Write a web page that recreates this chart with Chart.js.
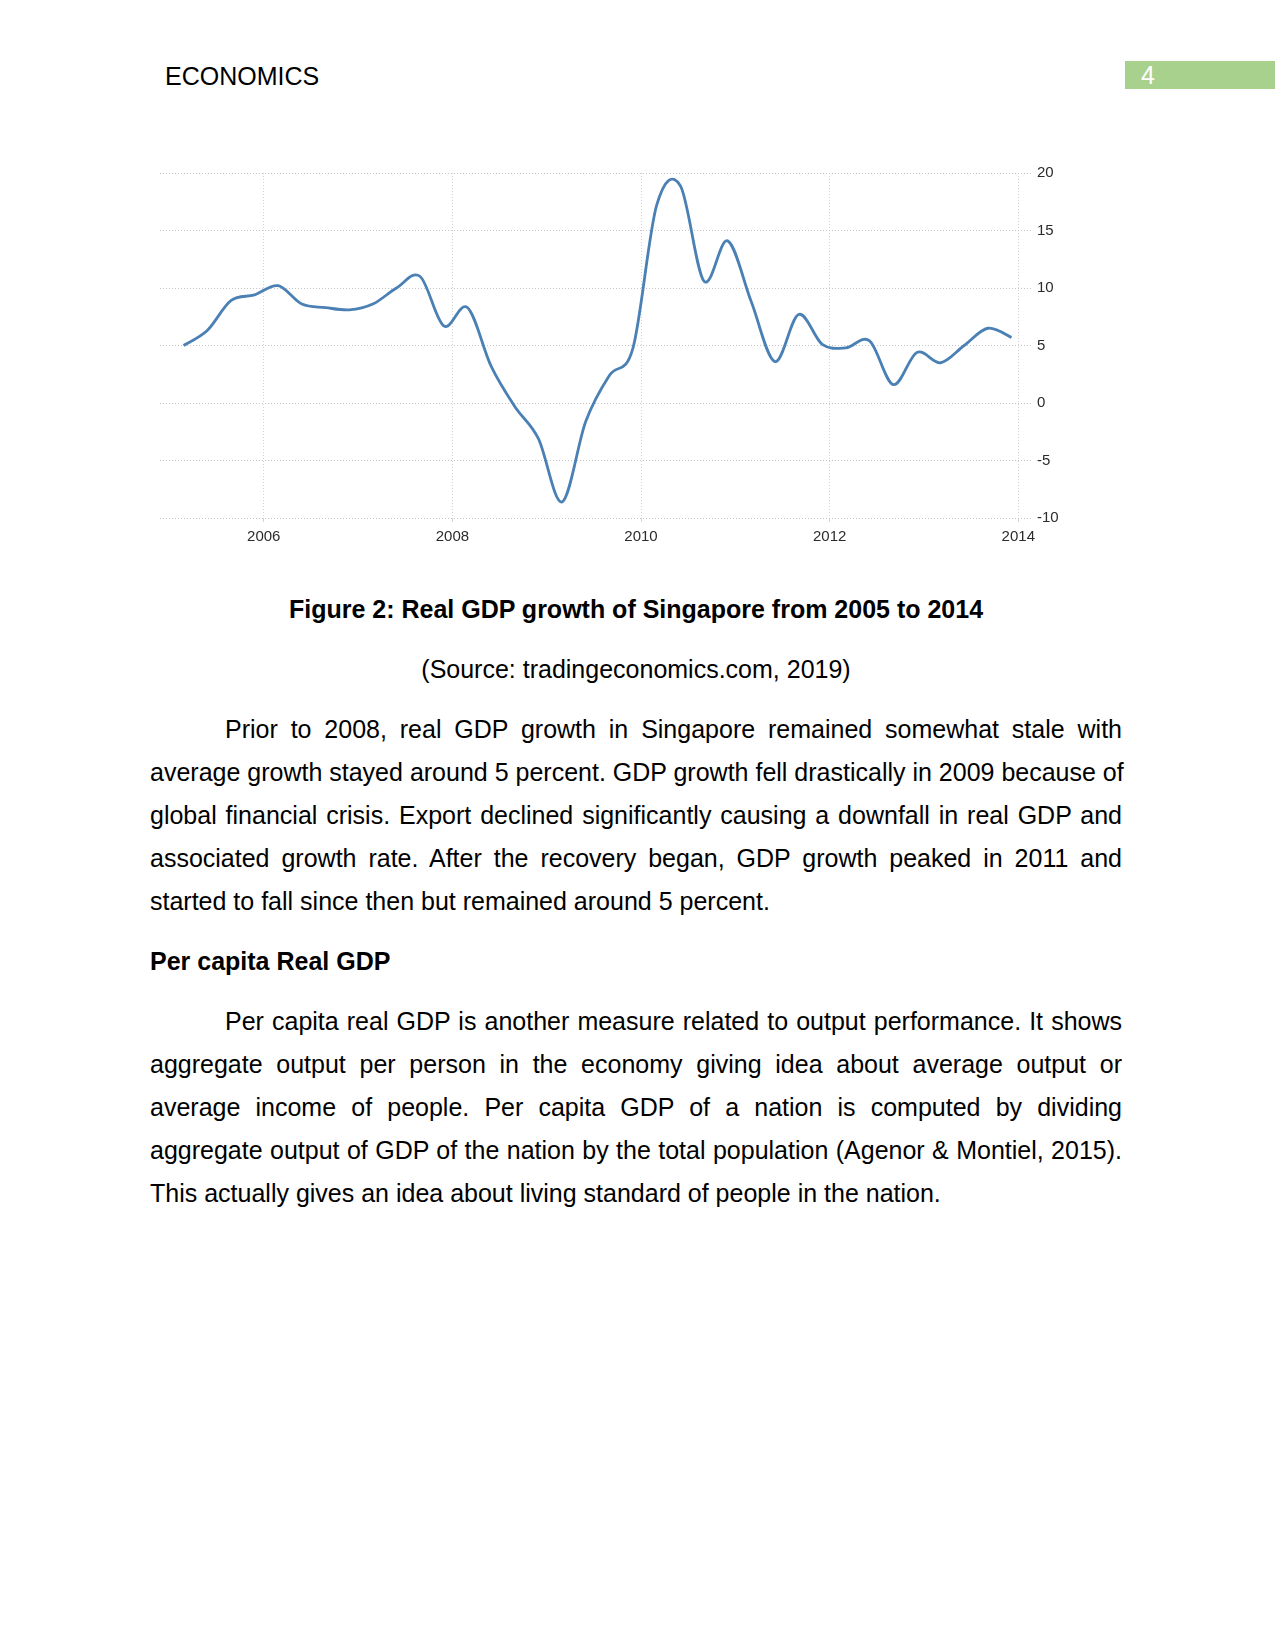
<!DOCTYPE html>
<html>
<head>
<meta charset="utf-8">
<script src="https://cdn.jsdelivr.net/npm/chart.js@4.4.1/dist/chart.umd.min.js"></script>
<style>
    body {
        margin: 0;
        background: #fff;
        font-family: "Liberation Sans", Arial, sans-serif;
        color: #000;
    }
    .page {
        position: relative;
        width: 1275px;
        height: 1651px;
        overflow: hidden;
    }
    .abs { position: absolute; }
    .header {
        left: 165px;
        top: 61px;
        font-size: 25px;
        line-height: 30px;
    }
    .page-num {
        left: 1125px;
        top: 61px;
        width: 150px;
        height: 28px;
        background: #a9d18e;
        color: #fff;
        font-size: 25px;
        line-height: 28px;
        padding-left: 16px;
        box-sizing: border-box;
    }
    #chartWrap {
        left: 160px;
        top: 160px;
        width: 913px;
        height: 388px;
    }
    .center {
        left: 150px;
        width: 972px;
        text-align: center;
        font-size: 25px;
        line-height: 43px;
    }
    .para {
        left: 150px;
        width: 972px;
        font-size: 25px;
        line-height: 43.1px;
    }
    .para div {
        text-align: justify;
        text-align-last: justify;
        white-space: nowrap;
    }
    .para div.indent { padding-left: 75px; }
    .para div.last { text-align: left; text-align-last: left; }
</style>
</head>
<body>
<div class="page">
    <div class="abs header">ECONOMICS</div>
    <div class="abs page-num">4</div>

    <div id="chartWrap" class="abs">
        <canvas id="gdpChart" width="913" height="388"></canvas>
    </div>

    <div class="abs center" style="top:588px; font-weight:bold;">Figure 2: Real GDP growth of Singapore from 2005 to 2014</div>
    <div class="abs center" style="top:648px;">(Source: tradingeconomics.com, 2019)</div>

    <div class="abs para" style="top:708px;">
        <div class="indent">Prior to 2008, real GDP growth in Singapore remained somewhat stale with</div>
        <div>average growth stayed around 5 percent. GDP growth fell drastically in 2009 because of</div>
        <div>global financial crisis. Export declined significantly causing a downfall in real GDP and</div>
        <div>associated growth rate. After the recovery began, GDP growth peaked in 2011 and</div>
        <div class="last">started to fall since then but remained around 5 percent.</div>
    </div>

    <div class="abs para" style="top:940px; font-weight:bold;">
        <div class="last">Per capita Real GDP</div>
    </div>

    <div class="abs para" style="top:1000px;">
        <div class="indent">Per capita real GDP is another measure related to output performance. It shows</div>
        <div>aggregate output per person in the economy giving idea about average output or</div>
        <div>average income of people. Per capita GDP of a nation is computed by dividing</div>
        <div>aggregate output of GDP of the nation by the total population (Agenor &amp; Montiel, 2015).</div>
        <div class="last">This actually gives an idea about living standard of people in the nation.</div>
    </div>
</div>

<script>
// Quarterly real GDP growth (%), Singapore, 2005 Q1 .. 2013 Q4
const years = [2005, 2006, 2007, 2008, 2009, 2010, 2011, 2012, 2013];
const gdpGrowth = [
    5.0, 6.3, 8.9, 9.4,      // 2005
    10.2, 8.6, 8.3, 8.1,     // 2006
    8.6, 10.0, 11.0, 6.7,    // 2007
    8.3, 3.2, -0.3, -3.1,    // 2008
    -8.6, -1.6, 2.4, 4.8,    // 2009
    17.2, 18.9, 10.6, 14.1,  // 2010
    8.8, 3.6, 7.7, 5.1,      // 2011
    4.8, 5.4, 1.6, 4.4,      // 2012
    3.5, 5.0, 6.5, 5.7       // 2013
];

// Axis ticks
const xTicks = [2006, 2008, 2010, 2012, 2014];
const yTicks = [-10, -5, 0, 5, 10, 15, 20];

// Each quarterly reading sits a little past the start of its quarter
const firstPoint = 2005.15;
const quarterStep = 0.2508;

const points = gdpGrowth.map((v, i) => ({
    x: firstPoint + i * quarterStep,
    y: v
}));

// Smooth the line with evenly weighted control points (like the source site's spline)
// instead of Chart.js' distance weighting, which kinks at the steep 2009-10 jump
const evenSpline = {
    id: 'evenSpline',
    beforeDatasetDraw(chart, args) {
        const line = args.meta.dataset;
        if (line && line.updateControlPoints) line.updateControlPoints(chart.chartArea);
        const pts = args.meta.data;
        const k = 1 / 6;
        for (let i = 0; i < pts.length; i++) {
            const prev = pts[Math.max(i - 1, 0)];
            const cur = pts[i];
            const next = pts[Math.min(i + 1, pts.length - 1)];
            const dx = next.x - prev.x;
            const dy = next.y - prev.y;
            cur.cp1x = cur.x - k * dx;
            cur.cp1y = cur.y - k * dy;
            cur.cp2x = cur.x + k * dx;
            cur.cp2y = cur.y + k * dy;
        }
    }
};

const ctx = document.getElementById('gdpChart').getContext('2d');

new Chart(ctx, {
    type: 'line',
    data: {
        datasets: [{
            data: points,
            borderColor: '#4a80b4',
            borderWidth: 2.8,
            pointRadius: 0,
            fill: false,
            tension: 0.4,
        }]
    },
    plugins: [evenSpline],
    options: {
        responsive: false,
        animation: false,
        devicePixelRatio: 1,
        layout: { padding: { top: 10, left: 0, right: 0, bottom: 0 } },
        plugins: {
            legend: { display: false },
            tooltip: { enabled: false }
        },
        scales: {
            x: {
                type: 'linear',
                min: 2004.9,
                max: 2014.156,
                afterBuildTicks: scale => { scale.ticks = xTicks.map(v => ({ value: v })); },
                afterFit: scale => { scale.height = 30; },
                ticks: {
                    color: '#2b2b2b',
                    padding: 6,
                    font: { family: 'Liberation Sans', size: 15 },
                    callback: v => String(v)
                },
                grid: {
                    color: '#d4d4d4',
                    drawTicks: true,
                    tickLength: 4,
                },
                border: { display: false, dash: [1, 2] }
            },
            y: {
                position: 'right',
                min: -10,
                max: 20,
                afterBuildTicks: scale => { scale.ticks = yTicks.map(v => ({ value: v })); },
                afterFit: scale => { scale.width = 40; },
                ticks: {
                    color: '#2b2b2b',
                    padding: 4,
                    font: { family: 'Liberation Sans', size: 15 },
                    callback: v => String(v)
                },
                grid: {
                    color: '#c4c4c4',
                    drawTicks: false,
                },
                border: { display: false, dash: [1, 2] }
            }
        }
    }
});
</script>
</body>
</html>
